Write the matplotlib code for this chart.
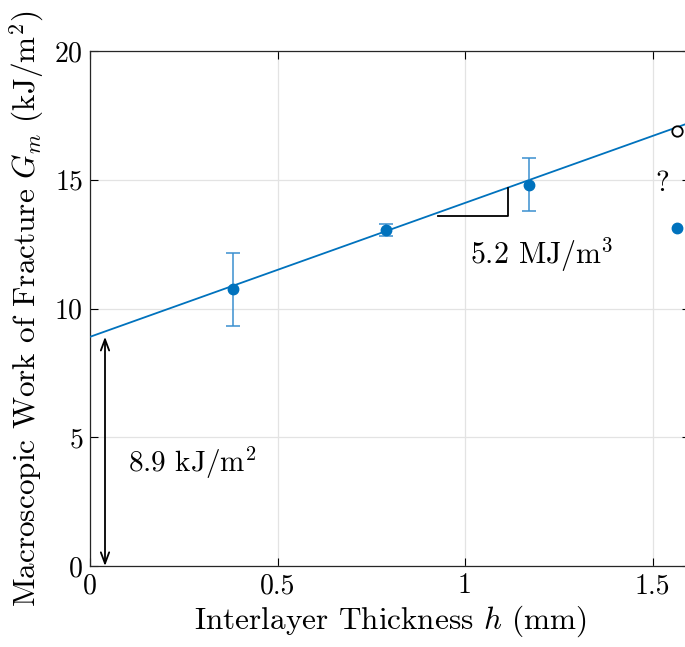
import matplotlib
matplotlib.use("Agg")
import matplotlib.pyplot as plt
import numpy as np

plt.rcParams['font.family'] = 'serif'
plt.rcParams['font.serif'] = ['cmr10']
plt.rcParams['mathtext.fontset'] = 'cm'
plt.rcParams['axes.formatter.use_mathtext'] = True

# Data
thickness = [0.38, 0.79, 1.17]
work = [10.75, 13.05, 14.80]
err_low = [9.32, 12.80, 13.79]
err_high = [12.15, 13.30, 15.84]
outlier_x = [1.565]
outlier_y = [13.12]
predicted_x = [1.565]
predicted_y = [16.9]
intercept = 8.9
slope = 5.2
x_ticks = [0, 0.5, 1, 1.5]
y_ticks = [0, 5, 10, 15, 20]

blue = '#0072BD'

fig = plt.figure(figsize=(6.85, 6.47), dpi=100)
ax = fig.add_axes([90/685, 81/647, 600/685, 515/647])

ax.set_xlim(0, 1.6)
ax.set_ylim(0, 20)
ax.set_xticks(x_ticks)
ax.set_yticks(y_ticks)
ax.set_xticklabels(['0', '0.5', '1', '1.5'])
ax.grid(True, color='#e3e3e3', linewidth=0.9)
ax.set_axisbelow(True)
ax.tick_params(direction='in', top=True, right=True, labelsize=20, length=6, width=0.8, pad=5)
for s in ax.spines.values():
    s.set_linewidth(0.9)
    s.set_color('#262626')

# fit line
xl = np.array([0, 1.6])
ax.plot(xl, intercept + slope * xl, color=blue, lw=1.3, zorder=3)

# data with error bars
yerr = [np.array(work) - np.array(err_low), np.array(err_high) - np.array(work)]
ax.errorbar(thickness, work, yerr=yerr, fmt='o', color=blue, ecolor='#3a8fd0',
            markersize=7.5, capsize=5, elinewidth=1.1, capthick=1.1, zorder=4)

ax.plot(outlier_x, outlier_y, 'o', color=blue, markersize=7.5, zorder=4)
ax.plot(predicted_x, predicted_y, 'o', mfc='white', mec='black', mew=1.3, markersize=7.5, zorder=5)
ax.text(1.525, 14.85, '?', fontsize=21, ha='center', va='center')

# slope triangle
x0, x1 = 0.928, 1.115
y_base = 13.6
ax.plot([x0, x1, x1], [y_base, y_base, intercept + slope * x1], color='black', lw=1.3, zorder=3)
ax.text(1.205, 12.1, r'5.2 MJ/m$^3$', fontsize=21.5, ha='center', va='center')

# intercept arrow
ax.annotate('', xy=(0.04, 0.0), xytext=(0.04, intercept),
            arrowprops=dict(arrowstyle='<->,head_length=0.8,head_width=0.3', color='black', lw=1.3,
                            shrinkA=0, shrinkB=0))
ax.text(0.10, 4.0, r'8.9 kJ/m$^2$', fontsize=21, ha='left', va='center')

ax.set_xlabel(r'Interlayer Thickness $h$ (mm)', fontsize=22.5, labelpad=3)
ax.set_ylabel(r'Macroscopic Work of Fracture $G_m$ (kJ/m$^2$)', fontsize=22.5, labelpad=6)

fig.savefig('out.png', dpi=100)
